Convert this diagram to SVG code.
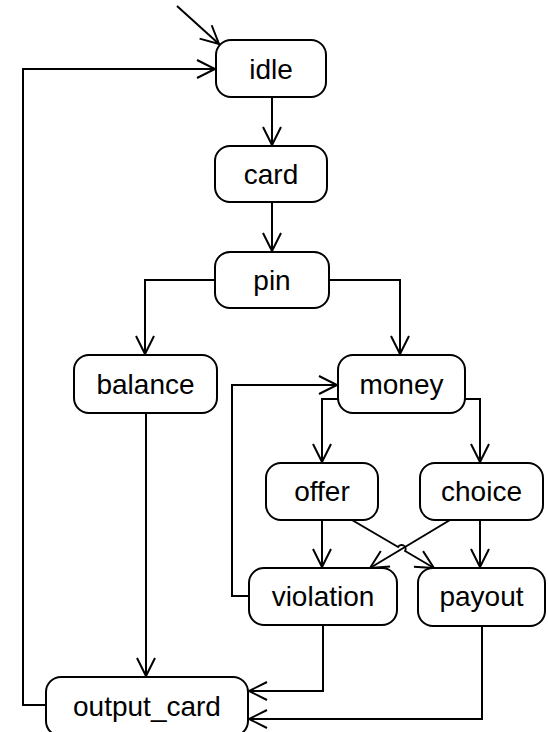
<svg xmlns="http://www.w3.org/2000/svg" width="548" height="732" viewBox="0 0 548 732">
  <style>
    .box { fill: #ffffff; stroke: #000000; stroke-width: 2; }
    .lbl { font-family: "Liberation Sans", Arial, sans-serif; font-size: 28px; fill: #000000; text-anchor: middle; }
    .edge { fill: none; stroke: #000000; stroke-width: 2; marker-end: url(#arrow); }
  </style>
  <defs>
    <marker id="arrow" markerUnits="userSpaceOnUse" markerWidth="24" markerHeight="24" viewBox="-20 -12 24 24" refX="0" refY="0" orient="auto">
      <path d="M-18,-9 L0,0 L-18,9" fill="none" stroke="#000000" stroke-width="2"/>
    </marker>
  </defs>
  <rect width="548" height="732" fill="#ffffff"/>

  <g id="connectors">
    <path class="edge" d="M177,6 L219,44"/>
    <path class="edge" d="M46,705 L23,705 L23,69 L215,69"/>
    <path class="edge" d="M272,97 L272,145"/>
    <path class="edge" d="M272,202 L272,251"/>
    <path class="edge" d="M215,280 L145,280 L145,354"/>
    <path class="edge" d="M329,280 L400,280 L400,354"/>
    <path class="edge" d="M146,413 L146,676"/>
    <path class="edge" d="M338,399 L322,399 L322,462"/>
    <path class="edge" d="M465,399 L480,399 L480,462"/>
    <path class="edge" d="M322,520 L322,567"/>
    <path class="edge" d="M480,520 L480,567"/>
    <path class="edge" d="M352,520 L398.1,547 A4,4 0 0 1 405.1,551 L434,568"/>
    <path class="edge" d="M450,520 L370,568"/>
    <path class="edge" d="M249,596 L232,596 L232,385 L337,385"/>
    <path class="edge" d="M323,625 L323,691 L249,691"/>
    <path class="edge" d="M482,626 L482,719 L249,719"/>
  </g>

  <g id="idle">
    <rect class="box" x="216" y="40" width="110" height="57" rx="15"/>
    <text class="lbl" x="271" y="79">idle</text>
  </g>
  <g id="card">
    <rect class="box" x="215" y="146" width="112" height="56" rx="15"/>
    <text class="lbl" x="271" y="184">card</text>
  </g>
  <g id="pin">
    <rect class="box" x="215" y="252" width="114" height="56" rx="15"/>
    <text class="lbl" x="272" y="290">pin</text>
  </g>
  <g id="balance">
    <rect class="box" x="74" y="355" width="143" height="58" rx="15"/>
    <text class="lbl" x="145.5" y="394">balance</text>
  </g>
  <g id="money">
    <rect class="box" x="338" y="355" width="127" height="58" rx="15"/>
    <text class="lbl" x="401.5" y="394">money</text>
  </g>
  <g id="offer">
    <rect class="box" x="266" y="463" width="112" height="57" rx="15"/>
    <text class="lbl" x="322" y="501">offer</text>
  </g>
  <g id="choice">
    <rect class="box" x="420" y="463" width="123" height="57" rx="15"/>
    <text class="lbl" x="481.5" y="501">choice</text>
  </g>
  <g id="violation">
    <rect class="box" x="249" y="568" width="148" height="57" rx="15"/>
    <text class="lbl" x="323" y="606">violation</text>
  </g>
  <g id="payout">
    <rect class="box" x="418" y="568" width="127" height="58" rx="15"/>
    <text class="lbl" x="481.5" y="606">payout</text>
  </g>
  <g id="output_card">
    <rect class="box" x="46" y="677" width="202" height="59" rx="15"/>
    <text class="lbl" x="147" y="716">output_card</text>
  </g>
</svg>
